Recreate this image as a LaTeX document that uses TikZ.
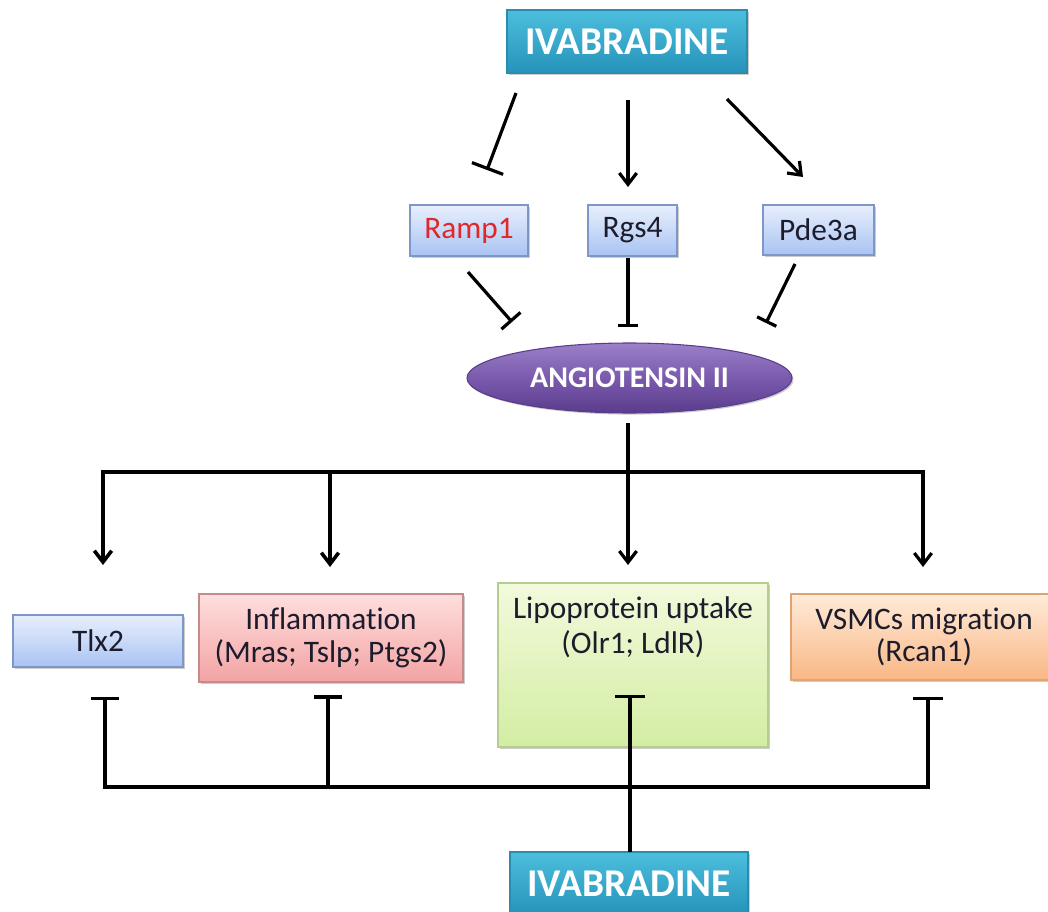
\documentclass[tikz,border=0pt]{standalone}
\usepackage{fontspec}
\setmainfont{Carlito}[Ligatures={NoCommon}]
\usetikzlibrary{arrows.meta,shapes.geometric,calc,shadows}
\definecolor{txtcol}{HTML}{1C1C2C}
\definecolor{ramptxt}{HTML}{E02828}
\definecolor{bluetop}{HTML}{E8EFFD}
\definecolor{bluebot}{HTML}{A9C3F3}
\definecolor{blueedge}{HTML}{7F97C6}
\definecolor{pinktop}{HTML}{FFDEDE}
\definecolor{pinkbot}{HTML}{F3A3A3}
\definecolor{pinkedge}{HTML}{C58A8A}
\definecolor{greentop}{HTML}{F2FADC}
\definecolor{greenbot}{HTML}{D3EDA3}
\definecolor{greenedge}{HTML}{B6CC90}
\definecolor{orangetop}{HTML}{FFEBD9}
\definecolor{orangebot}{HTML}{F9B785}
\definecolor{orangeedge}{HTML}{E0A472}
\definecolor{tealtop}{HTML}{4CBEDD}
\definecolor{tealbot}{HTML}{2693BA}
\definecolor{tealedge}{HTML}{2A8DB0}
\definecolor{purtop}{HTML}{9C80C8}
\definecolor{purmid}{HTML}{7A5AAD}
\definecolor{purbot}{HTML}{5A3C8C}
\begin{document}
\begin{tikzpicture}[x=0.75pt,y=-0.75pt,
  every node/.style={inner sep=0pt, outer sep=0pt},
  softshadow/.style={drop shadow={shadow xshift=1.2pt, shadow yshift=-1.2pt, opacity=0.2, fill=black}},
  boxfont/.style={font=\fontsize{23.5}{24.5}\selectfont, text=txtcol, align=center},
  genebox/.style={boxfont, draw=blueedge, line width=0.8pt, top color=bluetop, bottom color=bluebot, softshadow},
  inflbox/.style={boxfont, draw=pinkedge, line width=0.8pt, top color=pinktop, bottom color=pinkbot, softshadow},
  lipobox/.style={draw=greenedge, line width=0.8pt, top color=greentop, bottom color=greenbot, softshadow},
  vsmcbox/.style={boxfont, draw=orangeedge, line width=0.8pt, top color=orangetop, bottom color=orangebot, softshadow},
  ivabox/.style={draw=tealedge, line width=0.8pt, top color=tealtop, bottom color=tealbot, text=white,
     font=\fontsize{29.5}{30}\selectfont\bfseries, softshadow},
  angell/.style={ellipse, draw=purbot, line width=0.8pt, top color=purtop, bottom color=purbot, middle color=purmid,
     text=white, font=\fontsize{22.5}{23}\selectfont\bfseries, softshadow},
  act/.style={draw, line width=2.4pt, -{Straight Barb[length=8.5pt,width=13pt]}},
  inh/.style={draw, line width=2.4pt, -{Bar[width=#1]}},
  inh/.default=21pt
]
\useasboundingbox (0,0) rectangle (1048,912);
\clip (0,0) rectangle (1048,912);

% nodes
\node[ivabox, minimum width=180pt, minimum height=47.25pt] (iva) at (627,41.5) {IVABRADINE};
\node[genebox, minimum width=88.5pt, minimum height=38.25pt, text=ramptxt] (ramp) at (469,230.5) {Ramp1};
\node[genebox, minimum width=66.75pt, minimum height=38.25pt] (rgs) at (632.5,230.5) {Rgs4};
\node[genebox, minimum width=83.25pt, minimum height=37.5pt] (pde) at (818.5,230) {Pde3a};
\node[angell, minimum width=243.75pt, minimum height=52.5pt] (ang) at (629.5,378) {ANGIOTENSIN II};
\node[genebox, minimum width=127.5pt, minimum height=39pt] (tlx) at (98,641) {Tlx2};
\node[inflbox, minimum width=198pt, minimum height=66pt] (infl) at (331,638) {Inflammation\\(Mras; Tslp; Ptgs2)};
\node[lipobox, minimum width=202.5pt, minimum height=123pt] (lipo) at (633,665) {};
\node[boxfont, font=\fontsize{23.5}{26.5}\selectfont] (lipotext) at (633,627) {Lipoprotein uptake\\(Olr1; LdlR)};
\node[vsmcbox, minimum width=199.5pt, minimum height=64.5pt] (vsmc) at (924,637) {VSMCs migration\\(Rcan1)};
\node[ivabox, minimum width=178.5pt, minimum height=47.25pt] (iva2) at (629,883.5) {IVABRADINE};

% top connectors
\draw[inh=25pt] ($(iva.south)+(-111,20)$) -- ($(ramp.north)+(18,-35)$);
\draw[act] ($(iva.south)+(1,27)$) -- ($(rgs.north)+(-4.5,-18)$);
\draw[act] ($(iva.south)+(100,26)$) -- ($(pde.north)+(-15.5,-28)$);

% to angiotensin
\draw[inh=19pt] ($(ramp.south)+(-1,16)$) -- ($(ang.center)+(-117.5,-56)$);
\draw[inh=15pt] ($(rgs.south)+(-4.5,2)$) -- ($(ang.north)+(-1.5,-16)$);
\draw[inh=16pt] ($(pde.south)+(-23.5,9)$) -- ($(ang.center)+(136.5,-55)$);

% from angiotensin
\coordinate (hub) at ($(ang.south)+(-1.5,59)$);
\draw[act] ($(ang.south)+(-1.5,10)$) -- ($(lipo.north)+(-5,-18)$);
\draw[act, line width=2.7pt] (hub) -| ($(tlx.north)+(5,-50)$);
\draw[act, line width=2.7pt] (hub) -| ($(infl.north)+(-1,-27)$);
\draw[act] (hub) -| ($(vsmc.north)+(-1,-27)$);

% bottom inhibition
\coordinate (bus) at ($(iva2.north)+(1,-65)$);
\draw[inh=22pt] ($(iva2.north)+(1,0)$) -- ($(lipo.center)+(-3,30)$);
\draw[inh=21pt] (bus) -| ($(tlx.south)+(7,30)$);
\draw[inh=21pt, line width=3pt] (bus) -| ($(infl.south)+(-3,13)$);
\draw[inh=22pt] (bus) -| ($(vsmc.south)+(4,17)$);
\end{tikzpicture}
\end{document}
